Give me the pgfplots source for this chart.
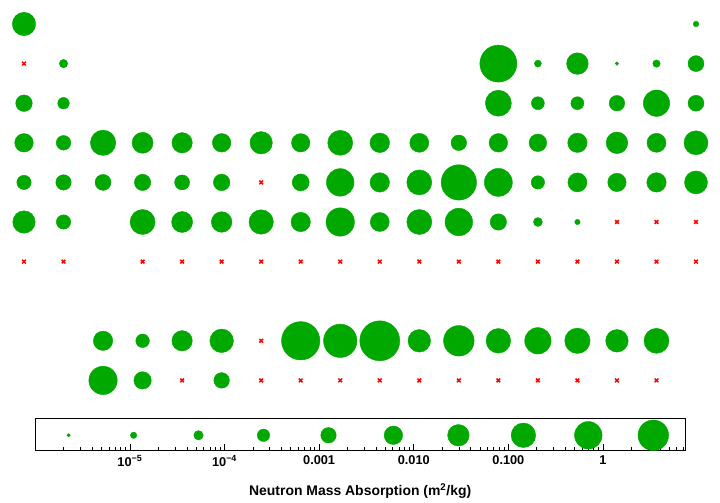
\documentclass[border=0pt]{standalone}
\usepackage{fontspec}
\setmainfont{Liberation Sans}
\usepackage{pgfplots}
\pgfplotsset{compat=1.18}
\usepackage{pgfplotstable}
\definecolor{ptgreen}{RGB}{0,168,0}
\definecolor{ptred}{RGB}{255,0,0}

% col row lv (lv = log10 of neutron mass absorption, m^2/kg)
\pgfplotstableread{
col row lv
1 1 -1.10
18 1 -5.15
2 2 -4.51
13 2 1.99
14 2 -4.83
15 2 -1.51
16 2 -5.60
17 2 -4.74
18 2 -2.79
1 3 -2.65
2 3 -3.79
13 3 -0.51
14 3 -3.47
15 3 -3.47
16 3 -2.88
17 3 -0.42
18 3 -2.79
1 4 -2.20
2 4 -3.10
3 4 -0.65
4 4 -1.65
5 4 -1.79
6 4 -2.20
7 4 -1.33
8 4 -2.24
9 4 -0.74
10 4 -1.97
11 4 -2.10
12 4 -2.88
13 4 -2.20
14 4 -2.42
15 4 -2.01
16 4 -1.51
17 4 -2.10
18 4 -0.97
1 5 -3.15
2 5 -2.92
3 5 -2.79
4 5 -2.70
5 5 -3.01
6 5 -2.65
8 5 -2.56
9 5 -0.15
10 5 -2.01
11 5 -0.74
12 5 1.62
13 5 -0.06
14 5 -3.38
15 5 -2.10
16 5 -2.24
17 5 -2.01
18 5 -1.20
1 6 -1.33
2 6 -3.15
4 6 -0.74
5 6 -1.65
6 6 -1.74
7 6 -0.88
8 6 -2.01
9 6 0.03
10 6 -2.10
11 6 -0.74
12 6 -0.15
13 6 -2.70
14 6 -4.38
15 6 -5.20
3 9 -2.01
4 9 -3.33
5 9 -1.79
6 9 -1.06
8 9 2.30
9 9 1.17
10 9 2.67
11 9 -1.29
12 9 0.53
13 9 -0.83
14 9 -0.42
15 9 -0.65
16 9 -1.29
17 9 -0.74
3 10 0.03
4 10 -2.47
6 10 -2.88
}\elements

% elements with no value
\pgfplotstableread{
col row
1 2
7 5
16 6
17 6
18 6
1 7
2 7
4 7
5 7
6 7
7 7
8 7
9 7
10 7
11 7
12 7
13 7
14 7
15 7
16 7
17 7
18 7
7 9
5 10
7 10
8 10
9 10
10 10
11 10
12 10
13 10
14 10
15 10
16 10
17 10
}\missing

\pgfplotstableread{
lv ypos
-5.648 0.46
-4.961 0.46
-4.275 0.46
-3.588 0.46
-2.901 0.46
-2.215 0.46
-1.528 0.46
-0.841 0.46
-0.155 0.46
0.532 0.46
}\legendpts

\begin{document}
\begin{tikzpicture}
\path (0,0) rectangle (720bp,-500bp);
\begin{axis}[
  at={(0,0)}, anchor=north west,
  x=39.53bp, y=39.6bp, y dir=reverse,
  xmin=0.3929, xmax=18.607, ymin=0.394, ymax=13.02,
  hide axis, clip=false, enlargelimits=false,
]
\addplot[scatter, only marks, mark=*,
  point meta={\thisrow{lv}},
  scatter/use mapped color={draw=ptgreen, fill=ptgreen},
  visualization depends on={14.13+2.2*\thisrow{lv} \as \msz},
  scatter/@pre marker code/.append style={/tikz/mark size=\msz bp, /tikz/line width=0.2bp},
] table[x=col, y=row] {\elements};
\addplot[only marks, mark=x, mark size=2.6bp, color=ptred, line width=1.5bp]
  table[x=col, y=row] {\missing};
\end{axis}
\begin{axis}[
  at={(35.3bp,-418bp)}, anchor=north west,
  width=649.7bp, height=32bp, scale only axis,
  xmode=log, xmin=1e-6, xmax=7.36, ymin=0, ymax=1,
  clip=false,
  ytick=\empty, xtick pos=left, tick align=inside,
  axis line style={line width=0.9bp},
  every tick/.style={black, line width=0.7bp},
  major tick length=6bp, minor tick length=3.3bp,
  xtick={1e-5,1e-4,1e-3,1e-2,1e-1,1},
  xticklabels={10\textsuperscript{−5},10\textsuperscript{−4},0.001,0.010,0.100,1},
  minor xtick={2e-6,3e-6,4e-6,5e-6,6e-6,7e-6,8e-6,9e-6,
    2e-5,3e-5,4e-5,5e-5,6e-5,7e-5,8e-5,9e-5,
    2e-4,3e-4,4e-4,5e-4,6e-4,7e-4,8e-4,9e-4,
    2e-3,3e-3,4e-3,5e-3,6e-3,7e-3,8e-3,9e-3,
    2e-2,3e-2,4e-2,5e-2,6e-2,7e-2,8e-2,9e-2,
    0.2,0.3,0.4,0.5,0.6,0.7,0.8,0.9,2,3,4,5,6,7},
  ticklabel style={font=\bfseries\fontsize{12.8}{15}\selectfont, yshift=-2bp},
  xlabel={Neutron Mass Absorption (m\textsuperscript{2}/kg)},
  xlabel style={font=\bfseries\fontsize{14}{17}\selectfont, yshift=-11bp},
]
\addplot[scatter, only marks, mark=*,
  point meta={\thisrow{lv}},
  scatter/use mapped color={draw=ptgreen, fill=ptgreen},
  visualization depends on={14.13+2.2*\thisrow{lv} \as \msz},
  scatter/@pre marker code/.append style={/tikz/mark size=\msz bp, /tikz/line width=0.2bp},
] table[x expr={10^(\thisrow{lv})}, y=ypos] {\legendpts};
\end{axis}
\end{tikzpicture}
\end{document}
